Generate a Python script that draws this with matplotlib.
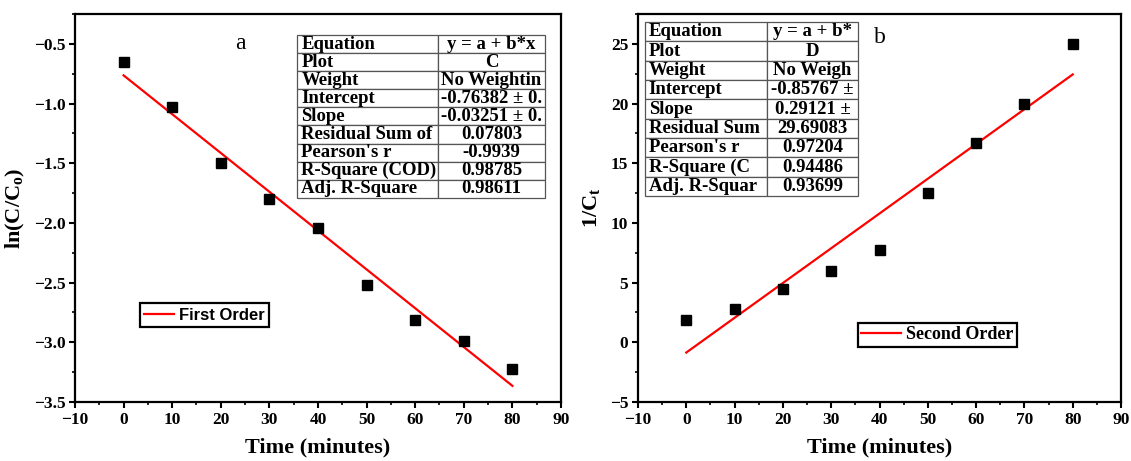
import matplotlib
matplotlib.use("Agg")
import matplotlib.pyplot as plt
import numpy as np
from matplotlib.ticker import MultipleLocator

plt.rcParams['font.family'] = ['Liberation Serif', 'DejaVu Serif']
plt.rcParams['font.weight'] = 'bold'
plt.rcParams['mathtext.fontset'] = 'custom'
plt.rcParams['mathtext.rm'] = 'Liberation Serif:bold'

# data
time_min = [0, 10, 20, 30, 40, 50, 60, 70, 80]
ln_ratio = [-0.65, -1.03, -1.50, -1.80, -2.04, -2.52, -2.81, -2.99, -3.22]
inv_conc = [1.9, 2.8, 4.45, 6.0, 7.7, 12.5, 16.7, 20.0, 25.0]

# fit parameters from the tables
first_a, first_b = -0.76382, -0.03251
second_a, second_b = -0.85767, 0.29121

table_keys_a = ["Equation", "Plot", "Weight", "Intercept", "Slope",
                "Residual Sum of", "Pearson's r", "R-Square (COD)", "Adj. R-Square"]
table_vals_a = ["y = a + b*x", "C", "No Weightin", "-0.76382 \u00b1 0.", "-0.03251 \u00b1 0.",
                "0.07803", "-0.9939", "0.98785", "0.98611"]
table_keys_b = ["Equation", "Plot", "Weight", "Intercept", "Slope",
                "Residual Sum", "Pearson's r", "R-Square (C", "Adj. R-Squar"]
table_vals_b = ["y = a + b*", "D", "No Weigh", "-0.85767 \u00b1", "0.29121 \u00b1",
                "29.69083", "0.97204", "0.94486", "0.93699"]

fig = plt.figure(figsize=(11.31, 4.61), dpi=100)
ax1 = fig.add_axes([0.0663, 0.128, 0.4297, 0.8416])
ax2 = fig.add_axes([0.5641, 0.128, 0.4271, 0.8416])


def style_axes(ax, ymaj, ymin):
    for s in ax.spines.values():
        s.set_linewidth(1.6)
    ax.set_xlim(-10, 90)
    ax.xaxis.set_major_locator(MultipleLocator(10))
    ax.xaxis.set_minor_locator(MultipleLocator(5))
    ax.yaxis.set_major_locator(MultipleLocator(ymaj))
    ax.yaxis.set_minor_locator(MultipleLocator(ymin))
    ax.tick_params(which='major', direction='out', length=4, width=1.5, labelsize=12.5, pad=3)
    ax.tick_params(which='minor', direction='out', length=2.5, width=1.2)
    ax.set_xlabel('Time (minutes)', fontsize=16, fontweight='bold', labelpad=7)


def add_table(ax, keys, vals, bbox, col_w):
    rows = [[k, v] for k, v in zip(keys, vals)]
    tb = ax.table(cellText=rows, bbox=bbox, colWidths=col_w, zorder=5)
    tb.auto_set_font_size(False)
    for (r, c), cell in tb.get_celld().items():
        cell.set_edgecolor('#555555')
        cell.set_linewidth(0.9)
        cell.set_facecolor('white')
        txt = cell.get_text()
        txt.set_fontsize(13.5)
        txt.set_fontweight('bold')
        if c == 0:
            cell.set_text_props(ha='left')
            cell.PAD = 0.03
        else:
            cell.set_text_props(ha='center')
    return tb


# panel a
x_fit = np.array([time_min[0], time_min[-1]])
ax1.plot(x_fit, first_a + first_b * x_fit, color='red', lw=1.6, label='First Order')
ax1.plot(time_min, ln_ratio, 's', color='black', ms=6.5)
style_axes(ax1, 0.5, 0.25)
ax1.set_ylim(-3.5, -0.25)
ax1.set_ylabel(r'ln(C/C$_\mathregular{o}$)', fontsize=16, fontweight='bold', labelpad=5)
ax1.text(24, -0.5, 'a', fontsize=17, fontweight='normal', ha='center', va='center')
add_table(ax1, table_keys_a, table_vals_a, [0.457, 0.526, 0.510, 0.420], [0.569, 0.431])
leg1 = ax1.legend(loc='center left', bbox_to_anchor=(0.134, 0.224), frameon=True, fancybox=False,
                  edgecolor='black', handlelength=1.8, handletextpad=0.3, borderpad=0.25,
                  borderaxespad=0,
                  prop={'family': 'Liberation Sans', 'weight': 'bold', 'size': 12})
leg1.get_frame().set_linewidth(1.6)
leg1.get_frame().set_alpha(1)

# panel b
ax2.plot(x_fit, second_a + second_b * x_fit, color='red', lw=1.6, label='Second Order')
ax2.plot(time_min, inv_conc, 's', color='black', ms=6.5)
style_axes(ax2, 5, 2.5)
ax2.set_ylim(-5, 27.5)
ax2.set_ylabel(r'1/C$_\mathregular{t}$', fontsize=16, fontweight='bold', labelpad=5)
ax2.text(40, 25.5, 'b', fontsize=17, fontweight='normal', ha='center', va='center')
add_table(ax2, table_keys_b, table_vals_b, [0.0145, 0.531, 0.441, 0.448], [0.573, 0.427])
leg2 = ax2.legend(loc='center left', bbox_to_anchor=(0.455, 0.173), frameon=True, fancybox=False,
                  edgecolor='black', handlelength=2.2, handletextpad=0.25, borderpad=0.2,
                  borderaxespad=0,
                  prop={'weight': 'bold', 'size': 13})
leg2.get_frame().set_linewidth(1.6)
leg2.get_frame().set_alpha(1)

fig.savefig('out.png', dpi=100)
